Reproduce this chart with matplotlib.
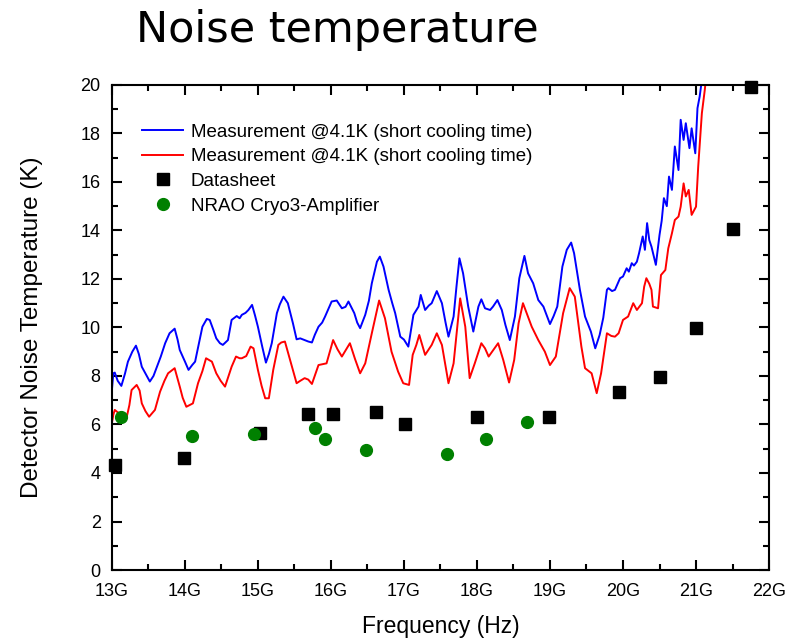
import matplotlib
matplotlib.use('Agg')
import matplotlib.pyplot as plt
from matplotlib.ticker import MultipleLocator

plt.rcParams['font.family'] = ['Liberation Sans', 'DejaVu Sans']

# ─── Data (frequency in GHz, temperature in K) ────────────────────────────
blue_f = [13.00, 13.02, 13.04, 13.08, 13.13, 13.18, 13.22, 13.28, 13.33, 13.37,
          13.41, 13.47, 13.52, 13.57, 13.61, 13.67, 13.73, 13.79, 13.86, 13.90,
          13.93, 14.00, 14.05, 14.10, 14.14, 14.19, 14.24, 14.30, 14.34, 14.39,
          14.43, 14.48, 14.52, 14.59, 14.64, 14.71, 14.75, 14.78, 14.83, 14.87,
          14.92, 14.96, 15.00, 15.06, 15.11, 15.15, 15.19, 15.26, 15.30, 15.35,
          15.41, 15.48, 15.53, 15.58, 15.64, 15.69, 15.74, 15.78, 15.83, 15.88,
          15.92, 16.01, 16.08, 16.15, 16.20, 16.24, 16.32, 16.36, 16.40, 16.47,
          16.52, 16.56, 16.63, 16.67, 16.72, 16.79, 16.84, 16.88, 16.95, 17.00,
          17.06, 17.13, 17.20, 17.23, 17.29, 17.34, 17.38, 17.45, 17.52, 17.57,
          17.61, 17.68, 17.72, 17.76, 17.81, 17.88, 17.95, 18.02, 18.06, 18.11,
          18.18, 18.22, 18.28, 18.34, 18.39, 18.45, 18.52, 18.58, 18.65, 18.70,
          18.77, 18.84, 18.91, 19.00, 19.05, 19.10, 19.17, 19.23, 19.29, 19.33,
          19.41, 19.48, 19.56, 19.62, 19.68, 19.73, 19.78, 19.80, 19.85, 19.89,
          19.96, 20.00, 20.05, 20.08, 20.12, 20.15, 20.19, 20.22, 20.27, 20.30,
          20.33, 20.36, 20.39, 20.45, 20.50, 20.53, 20.56, 20.60, 20.63, 20.67,
          20.71, 20.76, 20.79, 20.83, 20.86, 20.91, 20.94, 20.99, 21.02, 21.05,
          21.08, 21.12]
blue_k = [7.40, 8.11, 8.14, 7.80, 7.59, 8.10, 8.59, 9.00, 9.25, 8.90,
          8.38, 8.05, 7.77, 8.00, 8.32, 8.80, 9.35, 9.76, 9.95, 9.50,
          9.07, 8.60, 8.25, 8.45, 8.59, 9.30, 10.03, 10.35, 10.31, 9.90,
          9.55, 9.35, 9.28, 9.48, 10.31, 10.47, 10.38, 10.52, 10.60, 10.72,
          10.93, 10.50, 10.03, 9.20, 8.55, 8.90, 9.35, 10.59, 10.95, 11.27,
          11.00, 10.17, 9.51, 9.55, 9.48, 9.42, 9.38, 9.70, 10.03, 10.20,
          10.45, 11.07, 11.11, 10.79, 10.85, 11.07, 10.59, 10.20, 9.97, 10.52,
          11.10, 11.82, 12.71, 12.92, 12.51, 11.55, 11.00, 10.59, 9.62, 9.50,
          9.21, 10.52, 10.86, 11.34, 10.72, 10.90, 11.00, 11.50, 11.00, 10.20,
          9.62, 10.45, 11.70, 12.85, 12.23, 10.86, 9.83, 10.86, 11.16, 10.79,
          10.72, 10.86, 11.13, 10.72, 10.10, 9.48, 10.45, 12.03, 12.95, 12.23,
          11.82, 11.13, 10.86, 10.14, 10.47, 10.86, 12.51, 13.20, 13.50, 13.06,
          11.55, 10.45, 9.83, 9.14, 9.69, 10.40, 11.55, 11.62, 11.50, 11.55,
          12.03, 12.10, 12.44, 12.30, 12.65, 12.55, 12.71, 13.06, 13.75, 13.20,
          14.30, 13.60, 13.33, 12.58, 13.81, 14.40, 15.33, 15.00, 16.22, 15.67,
          17.46, 16.49, 18.56, 17.73, 18.42, 17.39, 18.21, 17.18, 19.04, 19.52,
          20.20, 21.00]

red_f = [13.00, 13.02, 13.04, 13.08, 13.11, 13.16, 13.20, 13.24, 13.27, 13.34,
         13.38, 13.41, 13.46, 13.51, 13.59, 13.66, 13.72, 13.77, 13.86, 13.93,
         13.97, 14.02, 14.11, 14.18, 14.24, 14.29, 14.37, 14.43, 14.49, 14.55,
         14.64, 14.70, 14.75, 14.78, 14.84, 14.90, 14.94, 15.00, 15.05, 15.10,
         15.15, 15.21, 15.28, 15.32, 15.37, 15.44, 15.53, 15.58, 15.64, 15.69,
         15.74, 15.83, 15.94, 16.03, 16.09, 16.15, 16.26, 16.33, 16.40, 16.47,
         16.56, 16.66, 16.74, 16.83, 16.92, 16.99, 17.07, 17.12, 17.17, 17.21,
         17.29, 17.38, 17.45, 17.52, 17.61, 17.68, 17.77, 17.84, 17.90, 17.97,
         18.06, 18.11, 18.16, 18.29, 18.36, 18.44, 18.51, 18.57, 18.63, 18.75,
         18.84, 18.93, 19.00, 19.08, 19.18, 19.27, 19.34, 19.43, 19.48, 19.57,
         19.64, 19.70, 19.78, 19.84, 19.89, 19.94, 20.00, 20.07, 20.14, 20.19,
         20.26, 20.29, 20.32, 20.36, 20.39, 20.41, 20.48, 20.52, 20.58, 20.62,
         20.67, 20.71, 20.76, 20.79, 20.83, 20.86, 20.90, 20.94, 21.00, 21.03,
         21.08, 21.12, 21.16]
red_k = [6.05, 6.40, 6.60, 6.50, 6.46, 6.30, 6.26, 6.80, 7.42, 7.63,
         7.40, 6.87, 6.55, 6.32, 6.60, 7.35, 7.80, 8.11, 8.32, 7.56,
         7.10, 6.73, 6.87, 7.70, 8.20, 8.73, 8.59, 8.11, 7.80, 7.56,
         8.38, 8.80, 8.73, 8.73, 8.82, 9.21, 9.14, 8.25, 7.60, 7.08,
         7.08, 8.25, 9.28, 9.38, 9.42, 8.66, 7.70, 7.80, 7.91, 7.85,
         7.67, 8.45, 8.52, 9.48, 9.10, 8.80, 9.35, 8.70, 8.11, 8.52,
         9.76, 11.11, 10.38, 9.00, 8.18, 7.70, 7.63, 8.87, 9.28, 9.69,
         8.87, 9.28, 9.76, 9.28, 7.70, 8.52, 11.20, 10.03, 7.91, 8.52,
         9.35, 9.14, 8.80, 9.35, 8.66, 7.73, 8.66, 10.17, 11.00, 10.03,
         9.48, 9.00, 8.45, 8.80, 10.59, 11.62, 11.27, 9.21, 8.32, 8.11,
         7.29, 8.11, 9.76, 9.65, 9.62, 9.76, 10.31, 10.45, 11.00, 10.72,
         11.00, 11.68, 12.03, 11.80, 11.55, 10.86, 10.79, 12.16, 12.37, 13.26,
         13.88, 14.43, 14.57, 14.98, 15.94, 15.40, 15.67, 14.64, 14.98, 16.63,
         18.83, 19.79, 21.00]

sheet_f = [13.04, 13.99, 15.03, 15.68, 16.03, 16.62, 17.01, 18.00, 18.98,
           19.95, 20.50, 21.00, 21.51, 21.75]
sheet_k = [4.33, 4.60, 5.64, 6.45, 6.45, 6.50, 6.02, 6.32, 6.32,
           7.35, 7.96, 9.97, 14.05, 19.90]

nrao_f = [13.13, 14.10, 14.94, 15.78, 15.92, 16.48, 17.59, 18.13, 18.69]
nrao_k = [6.30, 5.54, 5.62, 5.84, 5.39, 4.93, 4.77, 5.39, 6.09]

x_ticks = [13, 14, 15, 16, 17, 18, 19, 20, 21, 22]
x_tick_labels = ['13G', '14G', '15G', '16G', '17G', '18G', '19G', '20G', '21G', '22G']

fig = plt.figure(figsize=(7.99, 6.43), dpi=100)
ax = fig.add_axes([0.140, 0.1135, 0.8225, 0.7545])

ax.plot(blue_f, blue_k, color='#0000ff', linewidth=1.4,
        label='Measurement @4.1K (short cooling time)')
ax.plot(red_f, red_k, color='#ff0000', linewidth=1.4,
        label='Measurement @4.1K (short cooling time)')
ax.plot(sheet_f, sheet_k, 's', color='black', markersize=8.5,
        linestyle='none', label='Datasheet', clip_on=False, zorder=4)
ax.plot(nrao_f, nrao_k, 'o', color='#008000', markersize=8.5,
        linestyle='none', label='NRAO Cryo3-Amplifier', clip_on=False, zorder=5)

ax.set_xlim(13, 22)
ax.set_ylim(0, 20)
ax.set_xticks(x_ticks)
ax.set_xticklabels(x_tick_labels)
ax.yaxis.set_major_locator(MultipleLocator(2))
ax.xaxis.set_minor_locator(MultipleLocator(0.5))
ax.yaxis.set_minor_locator(MultipleLocator(1))
ax.tick_params(which='both', direction='in', top=True, right=True,
               labelsize=13, width=1.5)
ax.tick_params(which='major', length=7)
ax.tick_params(which='minor', length=4)
ax.tick_params(axis='x', pad=9)
ax.tick_params(axis='y', pad=8)
for sp in ax.spines.values():
    sp.set_linewidth(1.5)

ax.set_xlabel('Frequency (Hz)', fontsize=16.5, labelpad=11)
ax.set_ylabel('Detector Noise Temperature (K)', fontsize=17.5, labelpad=27)

ax.legend(loc='upper left', bbox_to_anchor=(0.046, 0.92), frameon=False,
          fontsize=13.5, handlelength=2.2, handletextpad=0.4,
          labelspacing=0.4, borderpad=0, borderaxespad=0)

fig.text(0.17, 0.953, 'Noise temperature', fontsize=31, family='DejaVu Sans',
         va='center', ha='left')

fig.savefig('out.png', dpi=100)
